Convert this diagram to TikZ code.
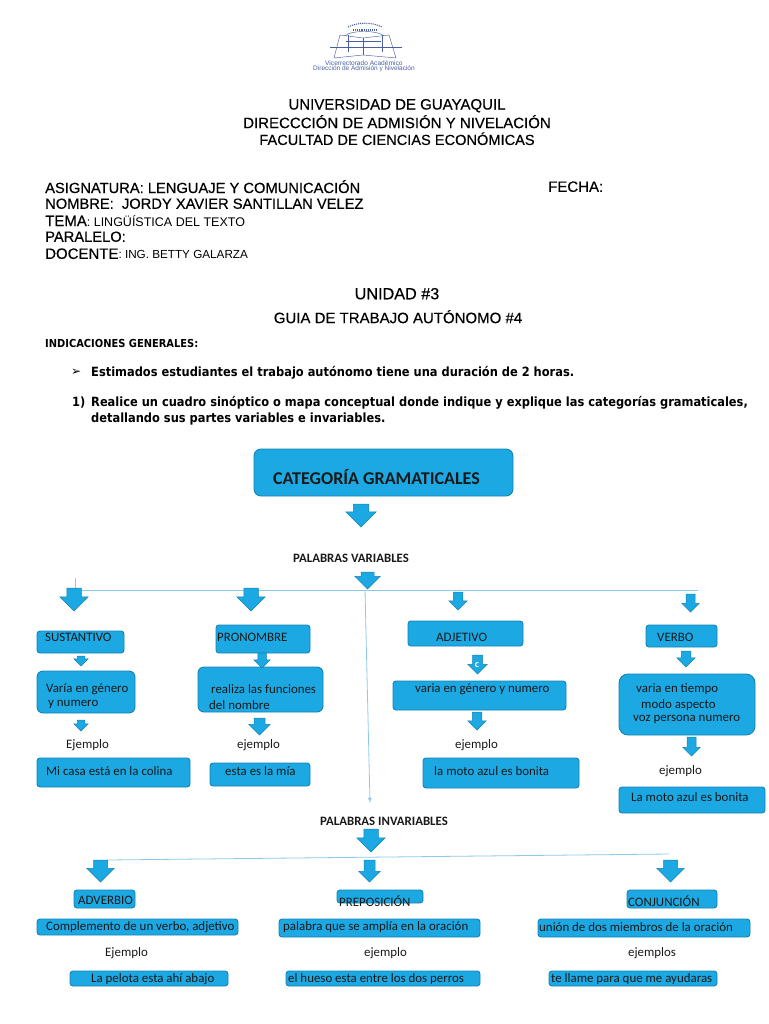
\documentclass[tikz,border=0pt]{standalone}
\usepackage{fontspec}
\setmainfont{Liberation Sans}
\newfontfamily\cali{Carlito}
\newfontfamily\dejav{DejaVu Sans}
\newfontfamily\headf[FakeBold=0.35]{Liberation Sans}
\newfontfamily\cuerpo{DejaVu Sans Condensed}
\usetikzlibrary{shapes.arrows}
\definecolor{boxblue}{HTML}{1CA9E3}
\definecolor{boxedge}{HTML}{1583B0}
\definecolor{thinblue}{HTML}{8FC9E8}
\definecolor{logoblue}{HTML}{4A5FA0}
\tikzset{
  box/.style={draw=boxedge, line width=0.9pt, fill=boxblue, rounded corners=3pt, inner sep=0pt, outer sep=0pt},
  arrowblock/.style={draw=boxedge, line width=0.5pt, fill=boxblue, single arrow, rotate=-90, anchor=tail, inner sep=0pt, outer sep=0pt},
  cajatxt/.style={font=\cali\fontsize{12.9}{14}\selectfont, anchor=west, inner sep=0pt, yshift=-0.7pt, text=black!90},
  headtxt/.style={anchor=west, inner sep=0pt, yshift=-0.7pt, text=black},
  thinline/.style={draw=thinblue, line width=0.8pt}
}
% #1 options, #2-#5 left top right bottom, #6 name
\newcommand\CAJA[6][]{\node[box,#1, minimum width={(#4-#2)*1pt}, minimum height={(#5-#3)*1pt}] (#6) at ({(#2+#4)/2},{(#3+#5)/2}) {};}
% #1 name, #2 left, #3 top, #4 right, #5 bottom
\newcommand\FLECHA[5]{%
  \pgfmathsetlengthmacro\anchoasta{(#4-#2)*0.5pt}%
  \node[arrowblock, minimum height={(#5-#3)*1pt}, minimum width={(#4-#2)*1pt}, single arrow head extend={(#4-#2)*0.25pt}] (#1) at ({(#2+#4)/2},#3) {\rule{0pt}{\anchoasta}};}

\begin{document}
\begin{tikzpicture}[x=1pt,y=-1pt]
  \useasboundingbox (0,0) rectangle (768,1024);

  %% logo
  \begin{scope}[draw=logoblue, line width=0.45pt]
    \draw (340,35) -- (334,58) -- (363,55) -- (396,58) -- (389,35) -- (363,38) -- cycle;
    \draw (330,47) -- (402,47);
    \draw (346,41) -- (381,41) (363,38) -- (363,55) (348,35) -- (348,52) (382,35) -- (382,52);
    \draw (345,36) .. controls (350,30) and (378,30) .. (384,36);
    \draw[densely dotted, line width=1.1pt] (348,27) .. controls (358,22) and (372,22) .. (382,27);
    \draw[densely dotted, line width=1.1pt] (353,30) -- (378,30);
  \end{scope}
  \node[headtxt, text=logoblue, font=\fontsize{6.6}{7}\selectfont] (logoa) at (325,62.5) {Vicerrectorado Académico};
  \node[headtxt, text=logoblue, font=\fontsize{6.5}{7}\selectfont] (logob) at (313,68) {Dirección de Admisión y Nivelación};

  %% header
  \begin{scope}[every node/.append style={font=\headf\fontsize{15}{17}\selectfont}]
    \node[headtxt, anchor=center] (uni) at (397,105) {UNIVERSIDAD DE GUAYAQUIL};
    \node[headtxt, anchor=center] (dir) at (397,121) {DIRECCCIÓN DE ADMISIÓN Y NIVELACIÓN};
    \node[headtxt, anchor=center, font=\headf\fontsize{14.6}{17}\selectfont] (fac) at (397,138) {FACULTAD DE CIENCIAS ECONÓMICAS};
    \node[headtxt, font=\headf\fontsize{14.7}{17}\selectfont] (asig) at (45,186) {ASIGNATURA: LENGUAJE Y COMUNICACIÓN};
    \node[headtxt] (fecha) at (548,186) {FECHA:};
    \node[headtxt, font=\headf\fontsize{14.7}{17}\selectfont] (nom) at (45,203) {NOMBRE:\ \ JORDY XAVIER SANTILLAN VELEZ};
    \node[headtxt] (tema) at (45,220) {TEMA\normalfont\fontsize{12.5}{14}\selectfont: LINGÜÍSTICA DEL TEXTO};
    \node[headtxt, font=\headf\fontsize{14.7}{17}\selectfont] (para) at (45,236) {PARALELO:};
    \node[headtxt] (doc) at (45,253) {DOCENTE\normalfont\fontsize{11.7}{14}\selectfont: ING. BETTY GALARZA};
    \node[headtxt, anchor=center, font=\headf\fontsize{16.2}{17}\selectfont] (unid) at (397,293) {UNIDAD \#3};
    \node[headtxt, anchor=center] (guia) at (398,316) {GUIA DE TRABAJO AUTÓNOMO \#4};
  \end{scope}

  \begin{scope}[every node/.append style={font=\cuerpo\bfseries\fontsize{12.7}{15}\selectfont}]
    \node[headtxt, font=\cuerpo\bfseries\fontsize{11}{13}\selectfont] (indi) at (45,343) {INDICACIONES GENERALES:};
    \node[headtxt, font=\dejav\fontsize{12}{13}\selectfont] (bul) at (71,372) {➢};
    \node[headtxt] (esti) at (91,372) {Estimados estudiantes el trabajo autónomo tiene una duración de 2 horas.};
    \node[headtxt] (num) at (72,402) {1)};
    \node[headtxt] (real) at (91,402) {Realice un cuadro sinóptico o mapa conceptual donde indique y explique las categorías gramaticales,};
    \node[headtxt] (deta) at (91,418) {detallando sus partes variables e invariables.};
  \end{scope}

  %% title
  \CAJA[rounded corners=7pt]{254}{449}{513}{496}{cat}
  \node[cajatxt, font=\cali\bfseries\fontsize{18}{20}\selectfont] (catt) at (273,476) {CATEGORÍA GRAMATICALES};
  \FLECHA{fcat}{346}{504}{376}{527}
  \node[cajatxt, anchor=center, font=\cali\bfseries\fontsize{12.8}{14}\selectfont] (pvar) at (351,558) {PALABRAS VARIABLES};
  \FLECHA{fvar}{355}{572}{380}{589}

  %% thin lines
  \coordinate (lvi) at (75,590);
  \coordinate (lvt) at (75,578);
  \coordinate (lvd) at (698,590);
  \coordinate (lva) at (365,590);
  \coordinate (lvb) at (370,803);
  \draw[thinline] (lvt) -- (lvi) -- (lvd);
  \draw[thinline, -latex] (lva) -- (lvb);

  %% sustantivo
  \FLECHA{fsus}{60}{588}{88}{611}
  \CAJA{37}{631}{124}{653}{sus}
  \node[cajatxt] (sust) at (45,637) {SUSTANTIVO};
  \FLECHA{fsus2}{74}{656}{88}{666}
  \CAJA[rounded corners=6pt]{37}{671}{135}{713}{sva}
  \node[cajatxt] (svat) at (46,688) {Varía en género};
  \node[cajatxt] (svab) at (48,704) {y numero};
  \FLECHA{fsus3}{74}{720}{88}{731}
  \node[cajatxt] (sej) at (66,744) {Ejemplo};
  \CAJA{37}{758}{190}{787}{scasa}
  \node[cajatxt] (scasat) at (46,770) {Mi casa está en la colina};

  %% pronombre
  \FLECHA{fpro}{237}{588}{265}{611}
  \CAJA{216}{625}{310}{653}{pro}
  \node[cajatxt] (prot) at (217,637) {PRONOMBRE};
  \CAJA[rounded corners=6pt]{198}{667}{323}{712}{pre}
  \FLECHA{fpro2}{254}{653}{270}{668}
  \node[cajatxt] (pret) at (211,688) {realiza las funciones};
  \node[cajatxt] (preb) at (209,704) {del nombre};
  \FLECHA{fpro3}{249}{718}{270}{735}
  \node[cajatxt] (pej) at (237,744) {ejemplo};
  \CAJA{210}{763}{310}{786}{pesta}
  \node[cajatxt] (pestat) at (225,770) {esta es la mía};

  %% adjetivo
  \FLECHA{fadj}{449}{592}{467}{610}
  \CAJA{408}{621}{523}{646}{adj}
  \node[cajatxt] (adjt) at (436,637) {ADJETIVO};
  \FLECHA{fadj2}{468}{655}{487}{674}
  \node[cajatxt, anchor=center, text=white, font=\cali\bfseries\fontsize{10}{11}\selectfont] (adjc) at (477,664) {c};
  \CAJA{393}{681}{566}{710}{ava}
  \node[cajatxt] (avat) at (415,688) {varia en género y numero};
  \FLECHA{fadj3}{468}{712}{486}{730}
  \node[cajatxt] (aej) at (455,744) {ejemplo};
  \CAJA{423}{758}{579}{788}{amoto}
  \node[cajatxt] (amotot) at (434,770) {la moto azul es bonita};

  %% verbo
  \FLECHA{fver}{682}{594}{699}{612}
  \CAJA{646}{625}{717}{647}{ver}
  \node[cajatxt] (vert) at (657,637) {VERBO};
  \FLECHA{fver2}{677}{651}{695}{667}
  \CAJA[rounded corners=9pt]{619}{674}{755}{735}{vti}
  \node[cajatxt] (vtia) at (636,688) {varia en tiempo};
  \node[cajatxt] (vtib) at (641,704) {modo aspecto};
  \node[cajatxt] (vtic) at (633,719) {voz persona numero};
  \FLECHA{fver3}{683}{737}{700}{756}
  \node[cajatxt] (vej) at (659,770) {ejemplo};
  \CAJA{619}{787}{765}{813}{vmoto}
  \node[cajatxt] (vmotot) at (631,796) {La moto azul es bonita};

  %% invariables
  \node[cajatxt, anchor=center, font=\cali\bfseries\fontsize{12.8}{14}\selectfont] (pinv) at (384,821) {PALABRAS INVARIABLES};
  \FLECHA{finv}{357}{829}{385}{852}
  \coordinate (lia) at (107,860);
  \coordinate (lib) at (669,854);
  \draw[thinline] (lia) -- (lib);

  \FLECHA{fadv}{87}{860}{114}{882}
  \CAJA{74}{890}{135}{908}{adv}
  \node[cajatxt] (advt) at (78,900) {ADVERBIO};
  \CAJA{37}{919}{238}{935}{acom}
  \node[cajatxt] (acomt) at (46,926) {Complemento de un verbo, adjetivo};
  \node[cajatxt] (adej) at (105,952) {Ejemplo};
  \CAJA{70}{971}{228}{986}{apel}
  \node[cajatxt] (apelt) at (91,978) {La pelota esta ahí abajo};

  \FLECHA{fprep}{359}{860}{380}{882}
  \CAJA{337}{890}{423}{903}{prep}
  \node[cajatxt] (prept) at (339,900) {PREPOSICIÓN};
  \CAJA{279}{919}{480}{937}{ppal}
  \node[cajatxt] (ppalt) at (283,926) {palabra que se amplía en la oración};
  \node[cajatxt] (prej) at (364,952) {ejemplo};
  \CAJA{286}{971}{480}{986}{phue}
  \node[cajatxt] (phuet) at (288,978) {el hueso esta entre los dos perros};

  \FLECHA{fcon}{657}{860}{684}{882}
  \CAJA{627}{890}{717}{908}{con}
  \node[cajatxt] (cont) at (628,900) {CONJUNCIÓN};
  \CAJA{538}{919}{750}{937}{cuni}
  \node[cajatxt] (cunit) at (539,926) {unión de dos miembros de la oración};
  \node[cajatxt] (cej) at (628,952) {ejemplos};
  \CAJA{549}{971}{717}{986}{clla}
  \node[cajatxt] (cllat) at (551,978) {te llame para que me ayudaras};
\end{tikzpicture}
\end{document}
